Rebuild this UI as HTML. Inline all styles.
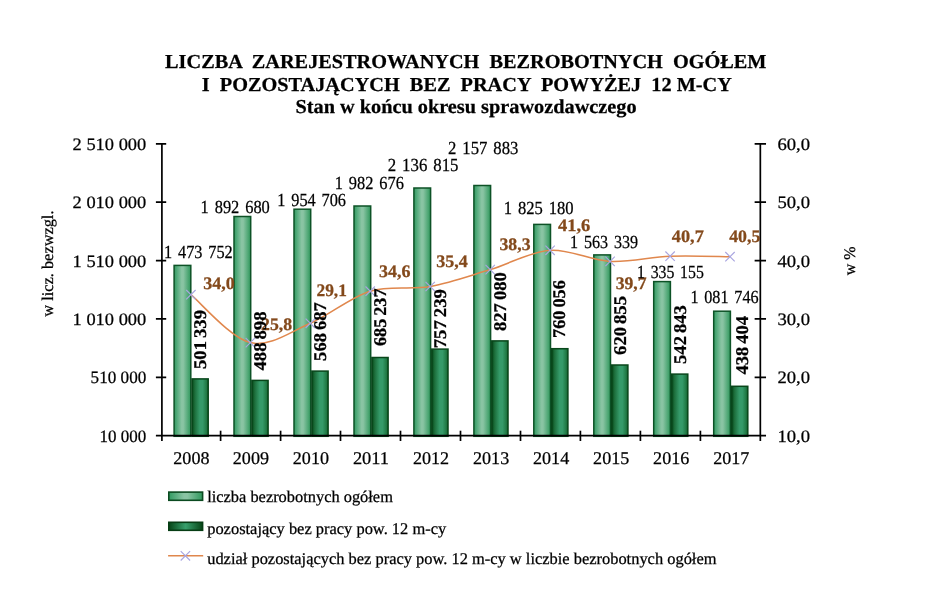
<!DOCTYPE html>
<html lang="pl"><head><meta charset="utf-8"><title>Liczba zarejestrowanych bezrobotnych</title>
<style>html,body{margin:0;padding:0;background:#fff}body{width:945px;height:606px;overflow:hidden}svg{display:block;will-change:transform}text{font-family:"Liberation Serif","Times New Roman",serif;fill:#000;stroke:#000;stroke-width:.25px;white-space:pre;text-rendering:geometricPrecision}.b{font-weight:bold}.br{font-weight:bold;fill:#83491b;stroke:#83491b}</style></head><body>
<svg width="945" height="606" viewBox="0 0 945 606">
<defs>
<linearGradient id="gl" x1="0" x2="1" y1="0" y2="0"><stop offset="0" stop-color="#329b62"/><stop offset="0.45" stop-color="#89c4a3"/><stop offset="0.55" stop-color="#89c4a3"/><stop offset="1" stop-color="#2f975c"/></linearGradient>
<linearGradient id="gd" x1="0" x2="1" y1="0" y2="0"><stop offset="0" stop-color="#064516"/><stop offset="0.18" stop-color="#1d6f3c"/><stop offset="0.48" stop-color="#359a69"/><stop offset="0.66" stop-color="#359a69"/><stop offset="0.9" stop-color="#1f7843"/><stop offset="1" stop-color="#0c5522"/></linearGradient>
<linearGradient id="gd2" x1="0" x2="1" y1="0" y2="0"><stop offset="0" stop-color="#064516"/><stop offset="0.5" stop-color="#37a06c"/><stop offset="1" stop-color="#064516"/></linearGradient>
<g id="mk"><path d="M-4.7 -4.7L4.7 4.7M-4.7 4.7L4.7 -4.7" stroke="#a9a5e0" stroke-width="1.15" fill="none"/></g>
</defs>
<rect width="945" height="606" fill="#fff"/>
<text class="b" x="165.1" y="67.9" font-size="19.8" textLength="601.4" lengthAdjust="spacingAndGlyphs">LICZBA  ZAREJESTROWANYCH  BEZROBOTNYCH  OGÓŁEM</text>
<text class="b" x="201.8" y="91.3" font-size="19.8" textLength="530.1" lengthAdjust="spacingAndGlyphs">I  POZOSTAJĄCYCH  BEZ  PRACY  POWYŻEJ  12 M-CY</text>
<text class="b" x="295.5" y="112.8" font-size="19.8" textLength="341.1" lengthAdjust="spacingAndGlyphs">Stan w końcu okresu sprawozdawczego</text>
<rect x="174.1" y="265.4" width="16.7" height="170.9" fill="url(#gl)" stroke="#0d5226" stroke-width="1.5"/>
<rect x="192.0" y="378.9" width="16.2" height="57.4" fill="url(#gd)" stroke="#08461a" stroke-width="1.5"/>
<rect x="234.0" y="216.5" width="16.7" height="219.8" fill="url(#gl)" stroke="#0d5226" stroke-width="1.5"/>
<rect x="251.9" y="380.4" width="16.2" height="55.9" fill="url(#gd)" stroke="#08461a" stroke-width="1.5"/>
<rect x="294.0" y="209.2" width="16.7" height="227.1" fill="url(#gl)" stroke="#0d5226" stroke-width="1.5"/>
<rect x="311.9" y="371.1" width="16.2" height="65.2" fill="url(#gd)" stroke="#08461a" stroke-width="1.5"/>
<rect x="354.0" y="206.0" width="16.7" height="230.3" fill="url(#gl)" stroke="#0d5226" stroke-width="1.5"/>
<rect x="371.9" y="357.5" width="16.2" height="78.8" fill="url(#gd)" stroke="#08461a" stroke-width="1.5"/>
<rect x="413.9" y="188.0" width="16.7" height="248.3" fill="url(#gl)" stroke="#0d5226" stroke-width="1.5"/>
<rect x="431.8" y="349.1" width="16.2" height="87.2" fill="url(#gd)" stroke="#08461a" stroke-width="1.5"/>
<rect x="473.9" y="185.5" width="16.7" height="250.8" fill="url(#gl)" stroke="#0d5226" stroke-width="1.5"/>
<rect x="491.8" y="340.9" width="16.2" height="95.4" fill="url(#gd)" stroke="#08461a" stroke-width="1.5"/>
<rect x="533.8" y="224.4" width="16.7" height="211.9" fill="url(#gl)" stroke="#0d5226" stroke-width="1.5"/>
<rect x="551.7" y="348.7" width="16.2" height="87.6" fill="url(#gd)" stroke="#08461a" stroke-width="1.5"/>
<rect x="593.8" y="254.9" width="16.7" height="181.4" fill="url(#gl)" stroke="#0d5226" stroke-width="1.5"/>
<rect x="611.7" y="365.0" width="16.2" height="71.3" fill="url(#gd)" stroke="#08461a" stroke-width="1.5"/>
<rect x="653.7" y="281.6" width="16.7" height="154.7" fill="url(#gl)" stroke="#0d5226" stroke-width="1.5"/>
<rect x="671.6" y="374.1" width="16.2" height="62.2" fill="url(#gd)" stroke="#08461a" stroke-width="1.5"/>
<rect x="713.7" y="311.2" width="16.7" height="125.1" fill="url(#gl)" stroke="#0d5226" stroke-width="1.5"/>
<rect x="731.6" y="386.3" width="16.2" height="50.0" fill="url(#gd)" stroke="#08461a" stroke-width="1.5"/>
<g stroke="#000" stroke-width="1.7" fill="none">
<path d="M161.9 143.8V441.0M155.9 435.7H766.0300000000001M760.33 441.0V143.8"/>
<path d="M155.9 377.3H166.20000000000002M754.63 377.3H766.0300000000001"/>
<path d="M155.9 318.9H166.20000000000002M754.63 318.9H766.0300000000001"/>
<path d="M155.9 260.6H166.20000000000002M754.63 260.6H766.0300000000001"/>
<path d="M155.9 202.2H166.20000000000002M754.63 202.2H766.0300000000001"/>
<path d="M155.9 143.8H166.20000000000002M754.63 143.8H766.0300000000001"/>
<path d="M220.6 430.7V441.0"/>
<path d="M280.6 430.7V441.0"/>
<path d="M340.5 430.7V441.0"/>
<path d="M400.5 430.7V441.0"/>
<path d="M460.5 430.7V441.0"/>
<path d="M520.5 430.7V441.0"/>
<path d="M580.4 430.7V441.0"/>
<path d="M640.4 430.7V441.0"/>
<path d="M700.4 430.7V441.0"/>
</g>
<text x="99.6" y="441.8" font-size="17.4" textLength="46.7" lengthAdjust="spacingAndGlyphs">10 000</text>
<text x="777.4" y="441.8" font-size="17.4" textLength="32.6" lengthAdjust="spacingAndGlyphs">10,0</text>
<text x="90.6" y="383.4" font-size="17.4" textLength="55.7" lengthAdjust="spacingAndGlyphs">510 000</text>
<text x="777.4" y="383.4" font-size="17.4" textLength="32.6" lengthAdjust="spacingAndGlyphs">20,0</text>
<text x="72.6" y="325.0" font-size="17.4" textLength="73.7" lengthAdjust="spacingAndGlyphs">1 010 000</text>
<text x="777.4" y="325.0" font-size="17.4" textLength="32.6" lengthAdjust="spacingAndGlyphs">30,0</text>
<text x="72.6" y="266.7" font-size="17.4" textLength="73.7" lengthAdjust="spacingAndGlyphs">1 510 000</text>
<text x="777.4" y="266.7" font-size="17.4" textLength="32.6" lengthAdjust="spacingAndGlyphs">40,0</text>
<text x="72.6" y="208.3" font-size="17.4" textLength="73.7" lengthAdjust="spacingAndGlyphs">2 010 000</text>
<text x="777.4" y="208.3" font-size="17.4" textLength="32.6" lengthAdjust="spacingAndGlyphs">50,0</text>
<text x="72.6" y="149.9" font-size="17.4" textLength="73.7" lengthAdjust="spacingAndGlyphs">2 510 000</text>
<text x="777.4" y="149.9" font-size="17.4" textLength="32.6" lengthAdjust="spacingAndGlyphs">60,0</text>
<text x="173.3" y="463.8" font-size="17.9" textLength="36.2" lengthAdjust="spacingAndGlyphs">2008</text>
<text x="232.8" y="463.8" font-size="17.9" textLength="36.2" lengthAdjust="spacingAndGlyphs">2009</text>
<text x="292.8" y="463.8" font-size="17.9" textLength="36.2" lengthAdjust="spacingAndGlyphs">2010</text>
<text x="352.9" y="463.8" font-size="17.9" textLength="36.2" lengthAdjust="spacingAndGlyphs">2011</text>
<text x="412.9" y="463.8" font-size="17.9" textLength="36.2" lengthAdjust="spacingAndGlyphs">2012</text>
<text x="473.0" y="463.8" font-size="17.9" textLength="36.2" lengthAdjust="spacingAndGlyphs">2013</text>
<text x="533.0" y="463.8" font-size="17.9" textLength="36.2" lengthAdjust="spacingAndGlyphs">2014</text>
<text x="593.1" y="463.8" font-size="17.9" textLength="36.2" lengthAdjust="spacingAndGlyphs">2015</text>
<text x="653.1" y="463.8" font-size="17.9" textLength="36.2" lengthAdjust="spacingAndGlyphs">2016</text>
<text x="713.2" y="463.8" font-size="17.9" textLength="36.2" lengthAdjust="spacingAndGlyphs">2017</text>
<text transform="translate(53.0 316.7) rotate(-90)" font-size="16.4" textLength="106.2" lengthAdjust="spacingAndGlyphs">w licz. bezwzgl.</text>
<text transform="translate(855.0 275.3) rotate(-90)" font-size="16.2" textLength="28.7" lengthAdjust="spacingAndGlyphs">w %</text>
<path d="M190.9 294.7C200.8 302.7 230.4 337.8 250.3 342.6C270.2 347.3 290.3 331.9 310.3 323.3C330.2 314.7 350.2 297.3 370.2 291.2C390.2 285.1 410.2 290.1 430.2 286.5C450.2 282.9 470.2 275.6 490.2 269.6C510.2 263.6 530.1 251.7 550.1 250.3C570.1 249.0 590.1 260.4 610.1 261.4C630.1 262.4 650.1 257.0 670.1 256.2C690.1 255.4 720.1 256.6 730.0 256.7" fill="none" stroke="#e0874d" stroke-width="1.55"/>
<use href="#mk" x="190.9" y="294.7"/>
<use href="#mk" x="250.3" y="342.6"/>
<use href="#mk" x="310.3" y="323.3"/>
<use href="#mk" x="370.2" y="291.2"/>
<use href="#mk" x="430.2" y="286.5"/>
<use href="#mk" x="490.2" y="269.6"/>
<use href="#mk" x="550.1" y="250.3"/>
<use href="#mk" x="610.1" y="261.4"/>
<use href="#mk" x="670.1" y="256.2"/>
<use href="#mk" x="730.0" y="256.7"/>
<text class="br" x="203.3" y="289.1" font-size="17.6" textLength="31.6" lengthAdjust="spacingAndGlyphs">34,0</text>
<text class="br" x="261.0" y="329.5" font-size="17.6" textLength="31.1" lengthAdjust="spacingAndGlyphs">25,8</text>
<text class="br" x="316.5" y="296.0" font-size="17.6" textLength="30.4" lengthAdjust="spacingAndGlyphs">29,1</text>
<text class="br" x="379.1" y="276.7" font-size="17.6" textLength="31.5" lengthAdjust="spacingAndGlyphs">34,6</text>
<text class="br" x="436.3" y="266.8" font-size="17.6" textLength="31.6" lengthAdjust="spacingAndGlyphs">35,4</text>
<text class="br" x="499.5" y="250.0" font-size="17.6" textLength="31.0" lengthAdjust="spacingAndGlyphs">38,3</text>
<text class="br" x="557.9" y="231.3" font-size="17.6" textLength="32.4" lengthAdjust="spacingAndGlyphs">41,6</text>
<text class="br" x="615.7" y="288.5" font-size="17.6" textLength="30.9" lengthAdjust="spacingAndGlyphs">39,7</text>
<text class="br" x="671.8" y="242.4" font-size="17.6" textLength="32.0" lengthAdjust="spacingAndGlyphs">40,7</text>
<text class="br" x="729.2" y="241.7" font-size="17.6" textLength="31.2" lengthAdjust="spacingAndGlyphs">40,5</text>
<text word-spacing="2.0" x="164.0" y="258.1" font-size="18.4" textLength="68.7" lengthAdjust="spacingAndGlyphs">1 473 752</text>
<text word-spacing="2.0" x="200.6" y="212.6" font-size="18.4" textLength="69.2" lengthAdjust="spacingAndGlyphs">1 892 680</text>
<text word-spacing="2.0" x="277.3" y="205.6" font-size="18.4" textLength="68.7" lengthAdjust="spacingAndGlyphs">1 954 706</text>
<text word-spacing="2.0" x="334.8" y="189.0" font-size="18.4" textLength="69.1" lengthAdjust="spacingAndGlyphs">1 982 676</text>
<text word-spacing="2.0" x="387.7" y="170.8" font-size="18.4" textLength="70.8" lengthAdjust="spacingAndGlyphs">2 136 815</text>
<text word-spacing="2.0" x="448.0" y="153.9" font-size="18.4" textLength="70.4" lengthAdjust="spacingAndGlyphs">2 157 883</text>
<text word-spacing="2.0" x="503.7" y="213.9" font-size="18.4" textLength="69.8" lengthAdjust="spacingAndGlyphs">1 825 180</text>
<text word-spacing="2.0" x="570.1" y="248.0" font-size="18.4" textLength="68.0" lengthAdjust="spacingAndGlyphs">1 563 339</text>
<text word-spacing="2.0" x="637.1" y="277.6" font-size="18.4" textLength="66.7" lengthAdjust="spacingAndGlyphs">1 335 155</text>
<text word-spacing="2.0" x="690.4" y="302.8" font-size="18.4" textLength="68.2" lengthAdjust="spacingAndGlyphs">1 081 746</text>
<text class="b" word-spacing="-1.6" transform="translate(206.0 369.0) rotate(-90)" font-size="17.9" textLength="59.0" lengthAdjust="spacingAndGlyphs">501 339</text>
<text class="b" word-spacing="-1.6" transform="translate(265.7 370.6) rotate(-90)" font-size="17.9" textLength="59.2" lengthAdjust="spacingAndGlyphs">488 898</text>
<text class="b" word-spacing="-1.6" transform="translate(325.8 360.9) rotate(-90)" font-size="17.9" textLength="58.7" lengthAdjust="spacingAndGlyphs">568 687</text>
<text class="b" word-spacing="-1.6" transform="translate(385.9 346.0) rotate(-90)" font-size="17.9" textLength="57.6" lengthAdjust="spacingAndGlyphs">685 237</text>
<text class="b" word-spacing="-1.6" transform="translate(445.7 348.3) rotate(-90)" font-size="17.9" textLength="59.2" lengthAdjust="spacingAndGlyphs">757 239</text>
<text class="b" word-spacing="-1.6" transform="translate(505.5 331.0) rotate(-90)" font-size="17.9" textLength="58.8" lengthAdjust="spacingAndGlyphs">827 080</text>
<text class="b" word-spacing="-1.6" transform="translate(565.4 337.9) rotate(-90)" font-size="17.9" textLength="57.7" lengthAdjust="spacingAndGlyphs">760 056</text>
<text class="b" word-spacing="-1.6" transform="translate(625.6 354.9) rotate(-90)" font-size="17.9" textLength="58.9" lengthAdjust="spacingAndGlyphs">620 855</text>
<text class="b" word-spacing="-1.6" transform="translate(685.9 363.9) rotate(-90)" font-size="17.9" textLength="58.6" lengthAdjust="spacingAndGlyphs">542 843</text>
<text class="b" word-spacing="-1.6" transform="translate(748.4 374.4) rotate(-90)" font-size="17.9" textLength="58.4" lengthAdjust="spacingAndGlyphs">438 404</text>
<rect x="168.8" y="492.1" width="33.8" height="8.2" fill="url(#gl)" stroke="#0b4a20" stroke-width="1.6"/>
<rect x="168.8" y="522.3" width="33.8" height="8.0" fill="url(#gd2)" stroke="#063d14" stroke-width="1.6"/>
<path d="M168.1 555.8H203.2" stroke="#e0874d" stroke-width="1.55"/><use href="#mk" x="185.4" y="555.8"/>
<text x="207.2" y="502.3" font-size="16.4" textLength="185.7" lengthAdjust="spacingAndGlyphs">liczba bezrobotnych ogółem</text>
<text x="207.2" y="533.6" font-size="16.4" textLength="239.0" lengthAdjust="spacingAndGlyphs">pozostający bez pracy pow. 12 m-cy</text>
<text x="207.2" y="564.2" font-size="16.4" textLength="509.3" lengthAdjust="spacingAndGlyphs">udział pozostających bez pracy pow. 12 m-cy w liczbie bezrobotnych ogółem</text>
</svg></body></html>
